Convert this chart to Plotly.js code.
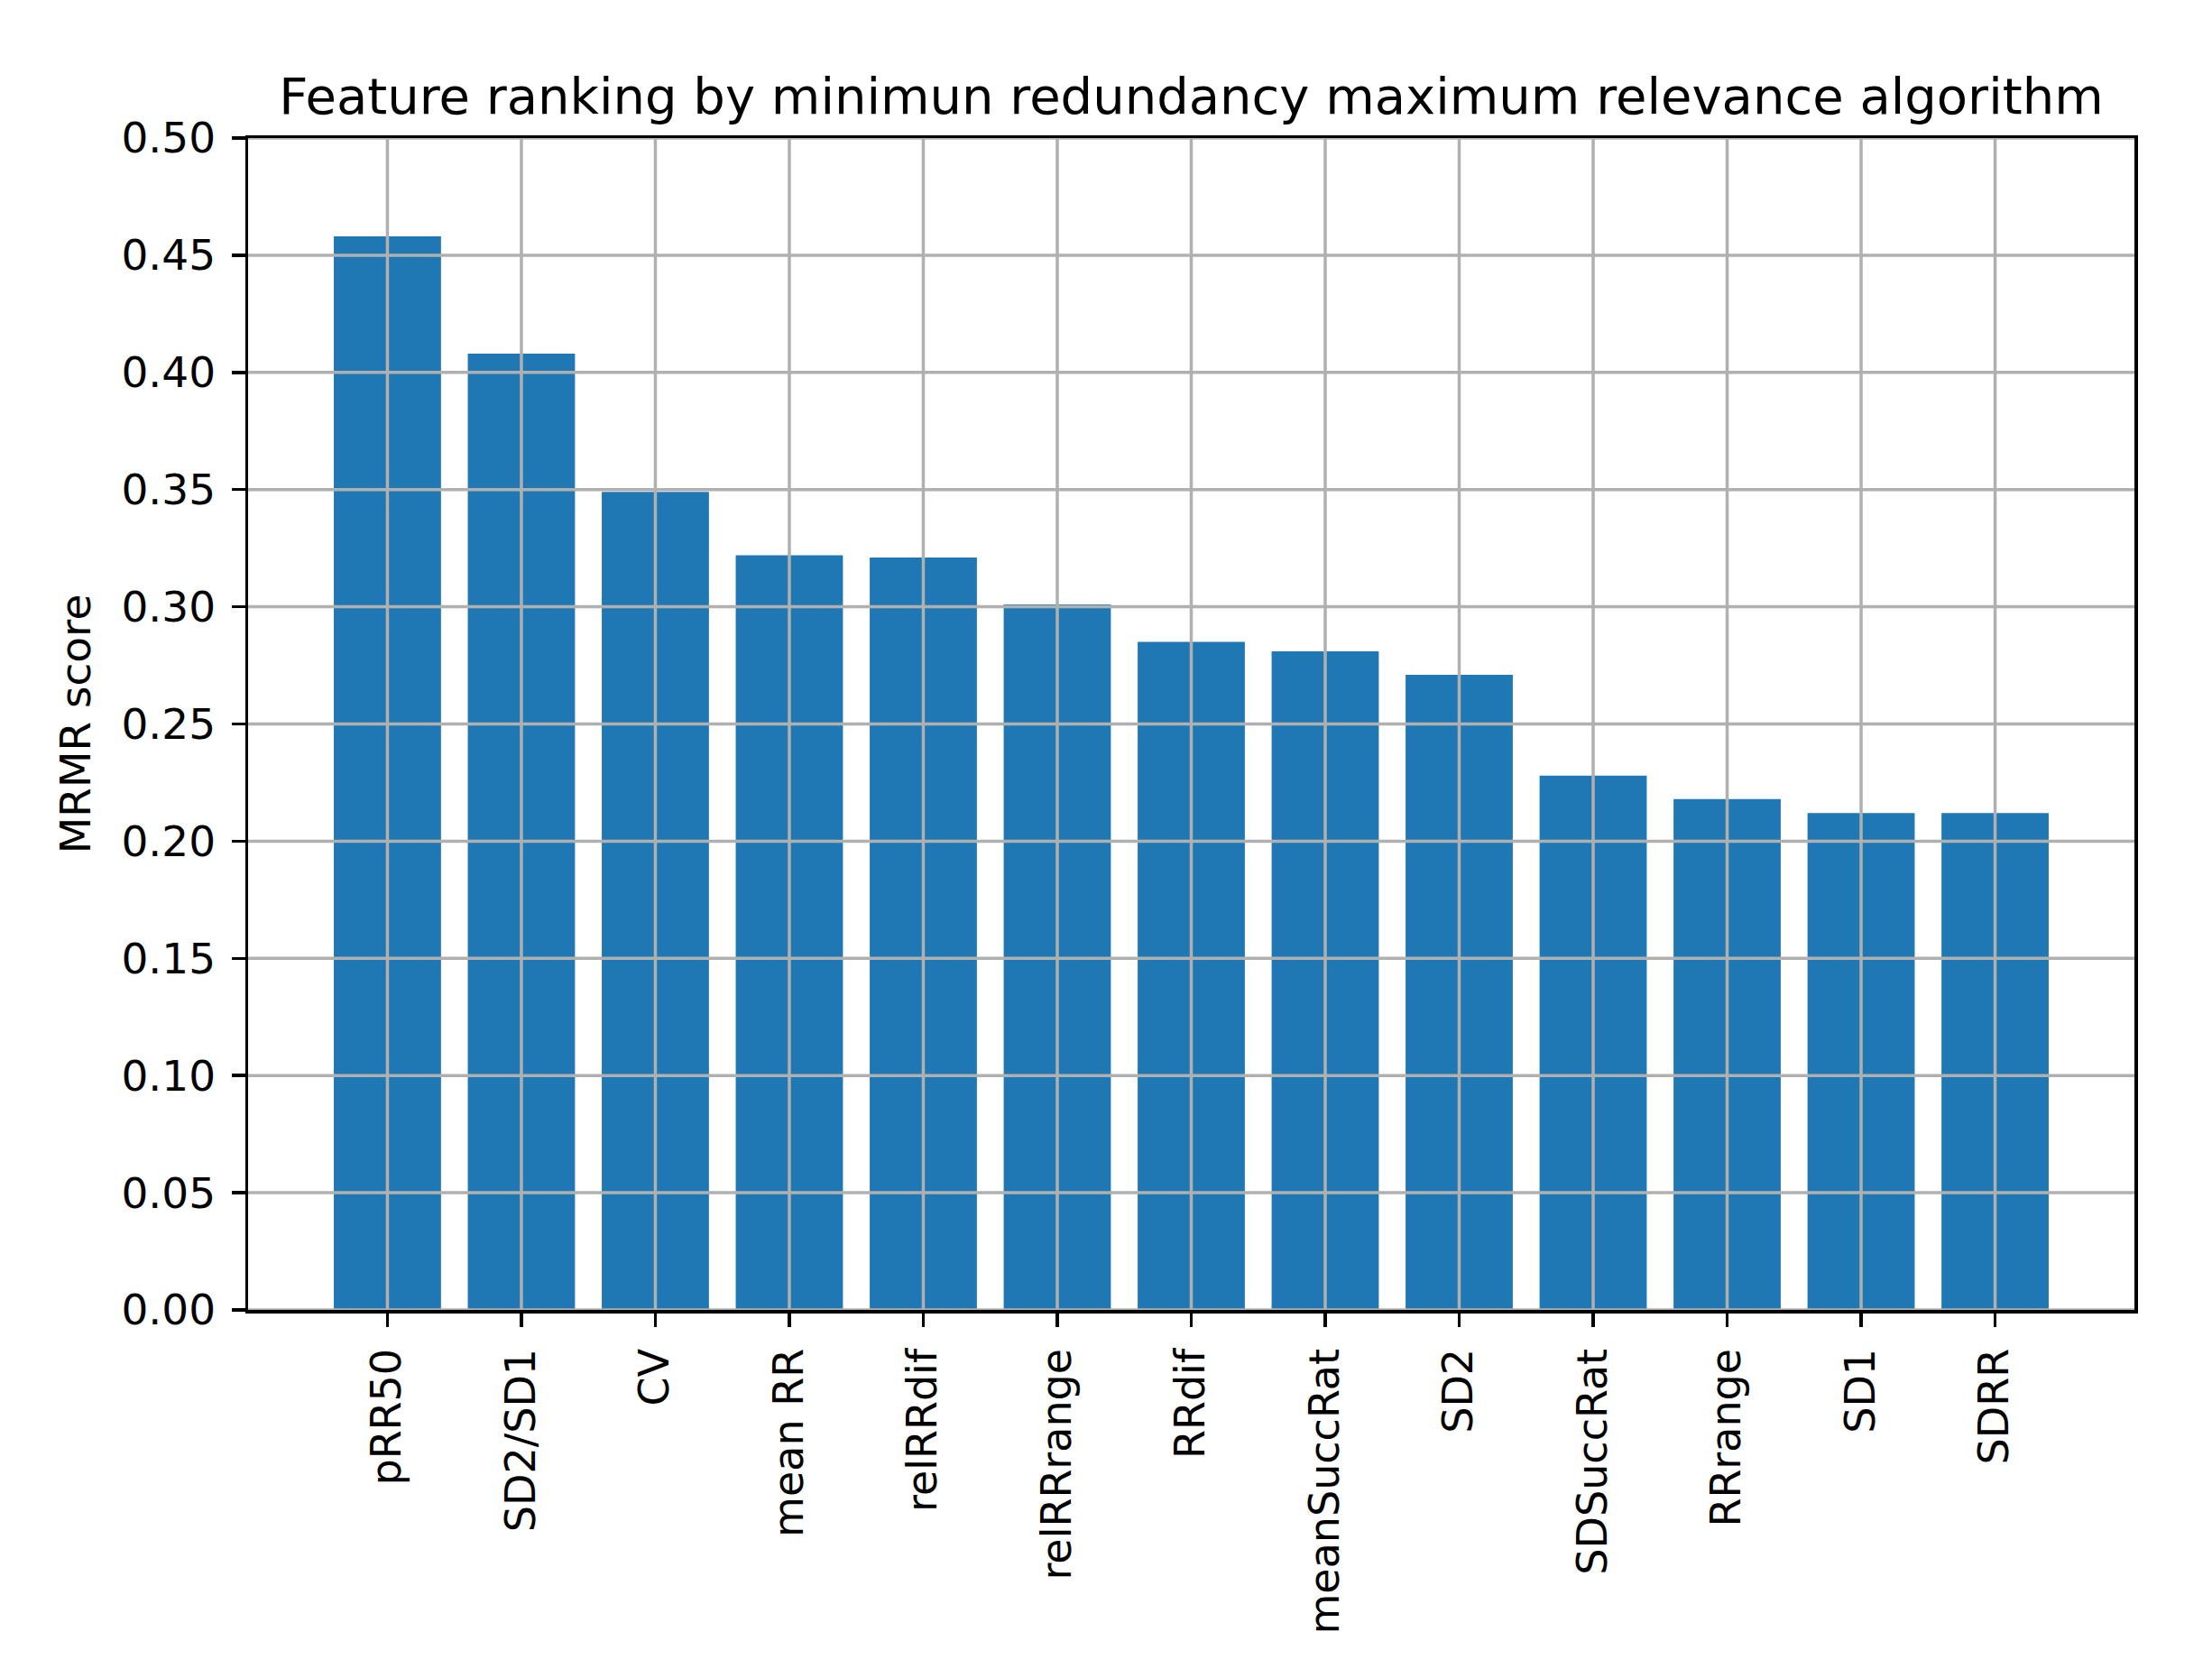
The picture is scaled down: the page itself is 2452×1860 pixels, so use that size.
<!DOCTYPE html>
<html>
<head>
<meta charset="utf-8">
<script src="https://cdn.plot.ly/plotly-3.0.1.min.js"></script>
<style>html,body{margin:0;padding:0;background:#fff;}#chart{width:2452px;height:1860px;}</style>
</head>
<body>
<div id="chart"></div>
<script>
const features = ["pRR50","SD2/SD1","CV","mean RR","relRRdif","relRRrange","RRdif","meanSuccRat","SD2","SDSuccRat","RRrange","SD1","SDRR"];
const scores = [0.458,0.408,0.349,0.322,0.321,0.301,0.285,0.281,0.271,0.228,0.218,0.212,0.212];
const yTicks = [0,0.05,0.10,0.15,0.20,0.25,0.30,0.35,0.40,0.45,0.50];
const titleText = "Feature ranking by minimun redundancy maximum relevance algorithm";
const yTitle = "MRMR score";

const gridColor = "#b0b0b0";
const gw = 3.5;
const shapes = [];
yTicks.forEach(v => shapes.push({type:"line", xref:"paper", x0:0, x1:1, yref:"y", y0:v, y1:v, line:{color:gridColor, width:gw}, layer:"above"}));
features.forEach(c => shapes.push({type:"line", xref:"x", x0:c, x1:c, yref:"paper", y0:0, y1:1, line:{color:gridColor, width:gw}, layer:"above"}));

const font = {family:"DejaVu Sans", size:47, color:"#000"};
const xfont = {family:"DejaVu Sans", size:46, color:"#000"};
const data = [{type:"bar", x:features, y:scores, marker:{color:"#1f77b4", line:{width:0}}, hoverinfo:"none"}];
const layout = {
  width:2452, height:1860,
  margin:{l:275, r:86, t:153, b:408},
  paper_bgcolor:"#fff", plot_bgcolor:"#fff",
  font:font,
  showlegend:false,
  bargap:0.2,
  title:{text:titleText, font:{family:"DejaVu Sans", size:56, color:"#000"}, x:0.5, xref:"paper", xanchor:"center", y:1-106/1860, yref:"container", yanchor:"middle"},
  xaxis:{type:"category", range:[-1.04, 12+1.04], showgrid:false, zeroline:false,
    showline:true, mirror:true, linecolor:"#000", linewidth:3.5,
    ticks:"outside", ticklen:15, tickwidth:3.5, tickcolor:"#000", tickangle:-90,
    tickfont:xfont, automargin:false, ticklabelstandoff:6},
  yaxis:{range:[0,0.5], tickvals:yTicks, tickformat:".2f", showgrid:false, zeroline:false,
    showline:true, mirror:true, linecolor:"#000", linewidth:3.5,
    ticks:"outside", ticklen:15, tickwidth:3.5, tickcolor:"#000",
    tickfont:font, automargin:false, ticklabelstandoff:8,
    title:{text:yTitle, font:font, standoff:20}},
  shapes:shapes
};
Plotly.newPlot("chart", data, layout, {staticPlot:true, displayModeBar:false});
</script>
</body>
</html>
